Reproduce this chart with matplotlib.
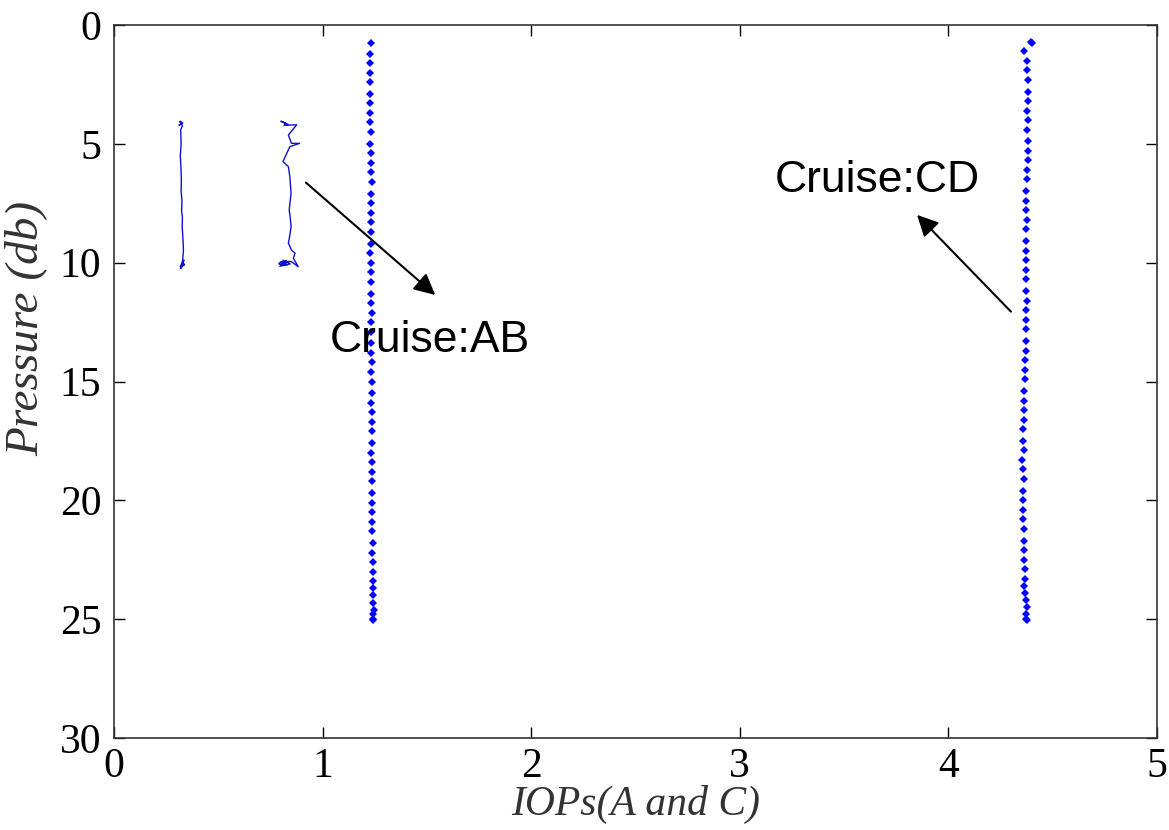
import matplotlib
matplotlib.use("Agg")
import matplotlib.pyplot as plt

# Cruise AB, first cast (A) - thin line
ab1_iop = [0.315, 0.33, 0.312, 0.325, 0.318, 0.328, 0.32, 0.322, 0.318, 0.321, 0.323,
           0.322, 0.326, 0.324, 0.328, 0.327, 0.33, 0.332, 0.333, 0.331, 0.33, 0.328,
           0.325, 0.335, 0.318, 0.33, 0.338, 0.322, 0.332, 0.319, 0.336]
ab1_pres = [4.08, 4.12, 4.22, 4.15, 4.05, 4.25, 4.4, 5.0, 5.5, 6.0, 6.5,
            7.0, 7.4, 7.8, 8.1, 8.5, 8.9, 9.2, 9.5, 9.7, 9.85, 9.95,
            10.05, 10.1, 10.15, 9.98, 10.08, 10.2, 10.0, 10.25, 9.9]

# Cruise AB, second cast (C) - jagged thin line
ab2_iop = [0.82, 0.80, 0.835, 0.815, 0.876, 0.836, 0.851, 0.89, 0.843, 0.81, 0.836,
           0.843, 0.849, 0.84, 0.845, 0.849, 0.842, 0.836, 0.851, 0.868, 0.86, 0.883,
           0.85, 0.80, 0.79, 0.815, 0.80, 0.83, 0.81, 0.845, 0.795, 0.825]
ab2_pres = [4.12, 4.05, 4.18, 4.22, 4.2, 4.63, 4.98, 4.98, 5.12, 5.75, 5.96,
            6.38, 7.08, 7.78, 8.1, 8.49, 8.9, 9.18, 9.47, 9.6, 9.81, 10.17,
            9.95, 9.96, 10.05, 10.12, 10.0, 10.1, 9.9, 10.05, 10.15, 9.92]

# Cruise AB dotted profile (x ~ 1.23)
ab3_pres = [0.75, 1.2, 1.6, 2.0, 2.4, 2.9, 3.3, 3.7, 4.1, 4.5, 5.0, 5.4, 5.8, 6.2,
            6.6, 7.1, 7.5, 7.9, 8.3, 8.7, 9.2, 9.6, 10.0, 10.4, 10.8, 11.3, 11.7,
            12.1, 12.5, 12.9, 13.4, 13.8, 14.2, 14.6, 15.0, 15.5, 15.9, 16.3, 16.7,
            17.1, 17.6, 18.0, 18.4, 18.8, 19.2, 19.7, 20.1, 20.5, 20.9, 21.3, 21.8,
            22.2, 22.6, 23.0, 23.4, 23.7, 24.0, 24.3, 24.6, 24.8, 25.0, 25.05]
ab3_iop = [1.230, 1.228, 1.227, 1.228, 1.229, 1.228, 1.227, 1.228, 1.229, 1.230, 1.229,
           1.231, 1.230, 1.232, 1.236, 1.233, 1.231, 1.232, 1.233, 1.232, 1.230, 1.229,
           1.231, 1.232, 1.233, 1.232, 1.234, 1.235, 1.233, 1.231, 1.233, 1.234, 1.236,
           1.233, 1.235, 1.236, 1.234, 1.235, 1.236, 1.237, 1.235, 1.234, 1.236, 1.237,
           1.236, 1.238, 1.237, 1.238, 1.239, 1.238, 1.240, 1.239, 1.241, 1.240, 1.242,
           1.243, 1.241, 1.242, 1.247, 1.244, 1.242, 1.244]

# Cruise CD dotted profile (x ~ 4.37)
cd_pres = [0.72, 0.75, 1.1, 1.5, 1.9, 2.3, 2.8, 3.2, 3.6, 4.0, 4.4, 4.9, 5.3, 5.7,
           6.1, 6.5, 7.0, 7.4, 7.8, 8.2, 8.6, 9.1, 9.5, 9.9, 10.3, 10.7, 11.2, 11.6,
           12.0, 12.4, 12.8, 13.3, 13.7, 14.1, 14.5, 14.9, 15.4, 15.8, 16.2, 16.6,
           17.0, 17.5, 17.9, 18.3, 18.7, 19.1, 19.6, 20.0, 20.4, 20.8, 21.2, 21.7,
           22.1, 22.5, 22.9, 23.3, 23.6, 23.9, 24.2, 24.5, 24.8, 25.0, 25.05]
cd_iop = [4.394, 4.40, 4.364, 4.378, 4.378, 4.380, 4.382, 4.380, 4.378, 4.380, 4.378,
          4.380, 4.382, 4.380, 4.376, 4.376, 4.372, 4.374, 4.372, 4.375, 4.372, 4.370,
          4.372, 4.370, 4.371, 4.372, 4.374, 4.375, 4.374, 4.372, 4.370, 4.372, 4.371,
          4.369, 4.368, 4.366, 4.362, 4.364, 4.364, 4.362, 4.359, 4.360, 4.361, 4.355,
          4.358, 4.362, 4.359, 4.356, 4.358, 4.360, 4.361, 4.362, 4.363, 4.364, 4.365,
          4.366, 4.364, 4.368, 4.372, 4.376, 4.370, 4.372, 4.378]

x_ticks = [0, 1, 2, 3, 4, 5]
y_ticks = [0, 5, 10, 15, 20, 25, 30]

fig = plt.figure(figsize=(11.69, 8.30), dpi=100)
ax = fig.add_axes([0.0975, 0.1108, 0.8922, 0.8591])

ax.plot(ab1_iop, ab1_pres, '-', color='#1010d0', lw=1.0)
ax.plot(ab2_iop, ab2_pres, '-', color='#1010d0', lw=1.0)
ax.plot(ab3_iop, ab3_pres, 'D', color='#0000ff', ms=3.6, mew=0, ls='none')
ax.plot(cd_iop, cd_pres, 'D', color='#0000ff', ms=3.6, mew=0, ls='none')

ax.set_xlim(0, 5)
ax.set_ylim(30, 0)
ax.set_xticks(x_ticks)
ax.set_yticks(y_ticks)

serif = 'Liberation Serif'
ax.tick_params(direction='in', length=8, width=1, top=True, right=True,
               labelsize=30, pad=9)
ax.tick_params(axis='x', pad=7)
for lab in ax.get_xticklabels() + ax.get_yticklabels():
    lab.set_fontfamily(serif)
for s in ax.spines.values():
    s.set_linewidth(1.2)
    s.set_color('#333333')

ax.set_xlabel('IOPs(A and C)', fontsize=30, family=serif, style='italic',
              color='#333333')
ax.set_ylabel('Pressure (db)', fontsize=34, family=serif, style='italic',
              color='#333333')
ax.xaxis.set_label_coords(0.5, -0.066)
ax.yaxis.set_label_coords(-0.064, 0.575)

# annotations
ax.annotate('', xy=(1.54, 11.36), xytext=(0.92, 6.63),
            arrowprops=dict(arrowstyle='-|>', color='black', lw=1.5,
                            mutation_scale=32, shrinkA=0, shrinkB=0))
ax.text(1.035, 13.76, 'Cruise:AB', fontsize=32, family='Liberation Sans',
        ha='left', va='baseline')
ax.annotate('', xy=(3.85, 7.99), xytext=(4.30, 12.06),
            arrowprops=dict(arrowstyle='-|>', color='black', lw=1.5,
                            mutation_scale=32, shrinkA=0, shrinkB=0))
ax.text(3.17, 7.01, 'Cruise:CD', fontsize=32, family='Liberation Sans',
        ha='left', va='baseline')

fig.savefig('out.png', dpi=100)
